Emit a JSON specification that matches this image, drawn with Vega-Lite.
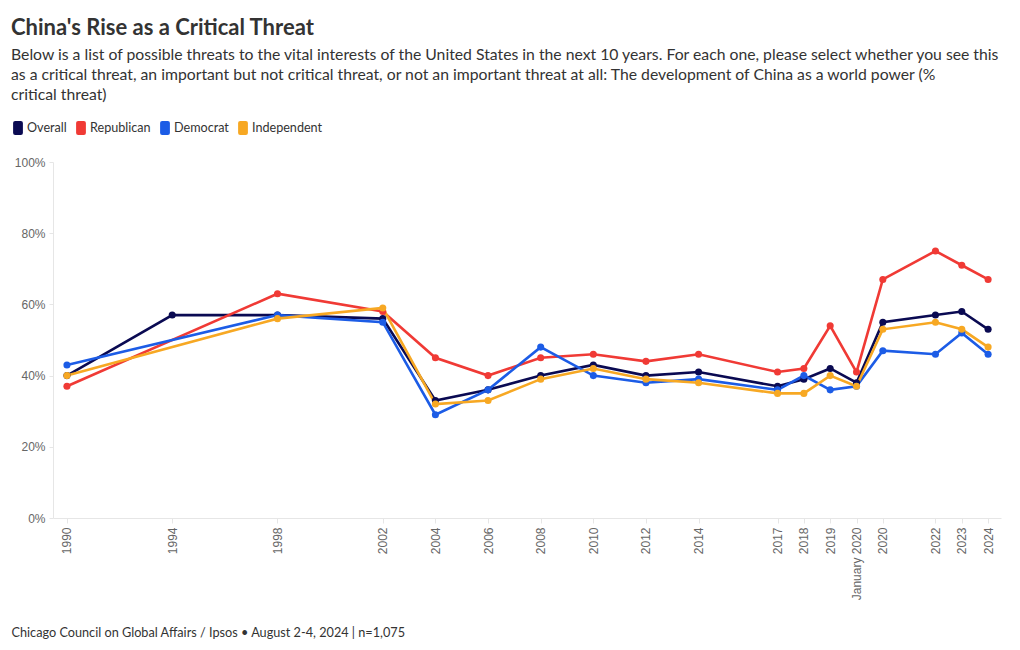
{
  "$schema": "https://vega.github.io/schema/vega-lite/v6.json",
  "width": 948,
  "height": 356,
  "autosize": "none",
  "padding": {"left": 53, "top": 162, "right": 19, "bottom": 132},
  "background": "white",
  "title": {
    "text": "China's Rise as a Critical Threat",
    "subtitle": [
      "Below is a list of possible threats to the vital interests of the United States in the next 10 years. For each one, please select whether you see this",
      "as a critical threat, an important but not critical threat, or not an important threat at all: The development of China as a world power (%",
      "critical threat)"
    ],
    "anchor": "start",
    "frame": "group",
    "dx": -42,
    "offset": 17,
    "font": "Lato",
    "fontSize": 22,
    "fontWeight": "bold",
    "color": "#333333",
    "subtitleFont": "Lato",
    "subtitleFontSize": 15.75,
    "subtitleColor": "#333333",
    "subtitleLineHeight": 20,
    "subtitlePadding": 8
  },
  "data": {
    "values": [
      {"year": "1990", "pos": 1990, "group": "Overall", "value": 40},
      {"year": "1994", "pos": 1994, "group": "Overall", "value": 57},
      {"year": "1998", "pos": 1998, "group": "Overall", "value": 57},
      {"year": "2002", "pos": 2002, "group": "Overall", "value": 56},
      {"year": "2004", "pos": 2004, "group": "Overall", "value": 33},
      {"year": "2006", "pos": 2006, "group": "Overall", "value": 36},
      {"year": "2008", "pos": 2008, "group": "Overall", "value": 40},
      {"year": "2010", "pos": 2010, "group": "Overall", "value": 43},
      {"year": "2012", "pos": 2012, "group": "Overall", "value": 40},
      {"year": "2014", "pos": 2014, "group": "Overall", "value": 41},
      {"year": "2017", "pos": 2017, "group": "Overall", "value": 37},
      {"year": "2018", "pos": 2018, "group": "Overall", "value": 39},
      {"year": "2019", "pos": 2019, "group": "Overall", "value": 42},
      {"year": "January 2020", "pos": 2020, "group": "Overall", "value": 38},
      {"year": "2020", "pos": 2021, "group": "Overall", "value": 55},
      {"year": "2022", "pos": 2023, "group": "Overall", "value": 57},
      {"year": "2023", "pos": 2024, "group": "Overall", "value": 58},
      {"year": "2024", "pos": 2025, "group": "Overall", "value": 53},

      {"year": "1990", "pos": 1990, "group": "Republican", "value": 37},
      {"year": "1998", "pos": 1998, "group": "Republican", "value": 63},
      {"year": "2002", "pos": 2002, "group": "Republican", "value": 58},
      {"year": "2004", "pos": 2004, "group": "Republican", "value": 45},
      {"year": "2006", "pos": 2006, "group": "Republican", "value": 40},
      {"year": "2008", "pos": 2008, "group": "Republican", "value": 45},
      {"year": "2010", "pos": 2010, "group": "Republican", "value": 46},
      {"year": "2012", "pos": 2012, "group": "Republican", "value": 44},
      {"year": "2014", "pos": 2014, "group": "Republican", "value": 46},
      {"year": "2017", "pos": 2017, "group": "Republican", "value": 41},
      {"year": "2018", "pos": 2018, "group": "Republican", "value": 42},
      {"year": "2019", "pos": 2019, "group": "Republican", "value": 54},
      {"year": "January 2020", "pos": 2020, "group": "Republican", "value": 41},
      {"year": "2020", "pos": 2021, "group": "Republican", "value": 67},
      {"year": "2022", "pos": 2023, "group": "Republican", "value": 75},
      {"year": "2023", "pos": 2024, "group": "Republican", "value": 71},
      {"year": "2024", "pos": 2025, "group": "Republican", "value": 67},

      {"year": "1990", "pos": 1990, "group": "Democrat", "value": 43},
      {"year": "1998", "pos": 1998, "group": "Democrat", "value": 57},
      {"year": "2002", "pos": 2002, "group": "Democrat", "value": 55},
      {"year": "2004", "pos": 2004, "group": "Democrat", "value": 29},
      {"year": "2006", "pos": 2006, "group": "Democrat", "value": 36},
      {"year": "2008", "pos": 2008, "group": "Democrat", "value": 48},
      {"year": "2010", "pos": 2010, "group": "Democrat", "value": 40},
      {"year": "2012", "pos": 2012, "group": "Democrat", "value": 38},
      {"year": "2014", "pos": 2014, "group": "Democrat", "value": 39},
      {"year": "2017", "pos": 2017, "group": "Democrat", "value": 36},
      {"year": "2018", "pos": 2018, "group": "Democrat", "value": 40},
      {"year": "2019", "pos": 2019, "group": "Democrat", "value": 36},
      {"year": "January 2020", "pos": 2020, "group": "Democrat", "value": 37},
      {"year": "2020", "pos": 2021, "group": "Democrat", "value": 47},
      {"year": "2022", "pos": 2023, "group": "Democrat", "value": 46},
      {"year": "2023", "pos": 2024, "group": "Democrat", "value": 52},
      {"year": "2024", "pos": 2025, "group": "Democrat", "value": 46},

      {"year": "1990", "pos": 1990, "group": "Independent", "value": 40},
      {"year": "1998", "pos": 1998, "group": "Independent", "value": 56},
      {"year": "2002", "pos": 2002, "group": "Independent", "value": 59},
      {"year": "2004", "pos": 2004, "group": "Independent", "value": 32},
      {"year": "2006", "pos": 2006, "group": "Independent", "value": 33},
      {"year": "2008", "pos": 2008, "group": "Independent", "value": 39},
      {"year": "2010", "pos": 2010, "group": "Independent", "value": 42},
      {"year": "2012", "pos": 2012, "group": "Independent", "value": 39},
      {"year": "2014", "pos": 2014, "group": "Independent", "value": 38},
      {"year": "2017", "pos": 2017, "group": "Independent", "value": 35},
      {"year": "2018", "pos": 2018, "group": "Independent", "value": 35},
      {"year": "2019", "pos": 2019, "group": "Independent", "value": 40},
      {"year": "January 2020", "pos": 2020, "group": "Independent", "value": 37},
      {"year": "2020", "pos": 2021, "group": "Independent", "value": 53},
      {"year": "2022", "pos": 2023, "group": "Independent", "value": 55},
      {"year": "2023", "pos": 2024, "group": "Independent", "value": 53},
      {"year": "2024", "pos": 2025, "group": "Independent", "value": 48}
    ]
  },
  "mark": {
    "type": "line",
    "strokeWidth": 2.6,
    "point": {"filled": true, "size": 50, "opacity": 1}
  },
  "encoding": {
    "x": {
      "field": "pos",
      "type": "quantitative",
      "scale": {"domain": [1989.47, 2025.49], "nice": false, "zero": false},
      "axis": {
        "values": [1990, 1994, 1998, 2002, 2004, 2006, 2008, 2010, 2012, 2014, 2017, 2018, 2019, 2020, 2021, 2023, 2024, 2025],
        "labelExpr": "datum.value == 2020 ? 'January 2020' : (datum.value > 2020 ? '' + (datum.value - 1) : '' + datum.value)",
        "labelAngle": -90,
        "labelFont": "Liberation Sans",
        "labelFontSize": 12,
        "labelColor": "#666666",
        "labelPadding": 4,
        "labelOverlap": false,
        "labelFlush": false,
        "grid": false,
        "domainColor": "#e6e6e6",
        "tickColor": "#e6e6e6",
        "tickSize": 5,
        "title": "Chicago Council on Global Affairs / Ipsos • August 2-4, 2024 | n=1,075",
        "titleFont": "Lato",
        "titleFontSize": 12.7,
        "titleFontWeight": "normal",
        "titleColor": "#333333",
        "titleAnchor": "start",
        "titleAlign": "left",
        "titleBaseline": "alphabetic",
        "titleX": -42,
        "titleY": 118
      }
    },
    "y": {
      "field": "value",
      "type": "quantitative",
      "scale": {"domain": [0, 100], "nice": false},
      "axis": {
        "values": [0, 20, 40, 60, 80, 100],
        "labelExpr": "datum.value + '%'",
        "labelFont": "Liberation Sans",
        "labelFontSize": 12,
        "labelColor": "#666666",
        "labelPadding": 4,
        "grid": false,
        "domainColor": "#e6e6e6",
        "tickColor": "#e6e6e6",
        "tickSize": 4,
        "title": null
      }
    },
    "color": {
      "field": "group",
      "type": "nominal",
      "scale": {
        "domain": ["Overall", "Republican", "Democrat", "Independent"],
        "range": ["#0a0a52", "#f03a35", "#1c5ce6", "#f7a823"]
      },
      "legend": {
        "title": null,
        "orient": "none",
        "direction": "horizontal",
        "legendX": -42,
        "legendY": -41,
        "symbolType": "M-0.4,-1 L0.4,-1 Q0.7,-1 0.7,-0.7 L0.7,0.7 Q0.7,1 0.4,1 L-0.4,1 Q-0.7,1 -0.7,0.7 L-0.7,-0.7 Q-0.7,-1 -0.4,-1 Z",
        "symbolSize": 196,
        "symbolStrokeWidth": 0,
        "symbolOpacity": 1,
        "labelFont": "Lato",
        "labelFontSize": 12.6,
        "labelColor": "#333333",
        "labelOffset": 2,
        "columnPadding": 7
      }
    },
    "order": {"field": "pos", "type": "quantitative"}
  },
  "config": {
    "view": {"stroke": null}
  }
}
